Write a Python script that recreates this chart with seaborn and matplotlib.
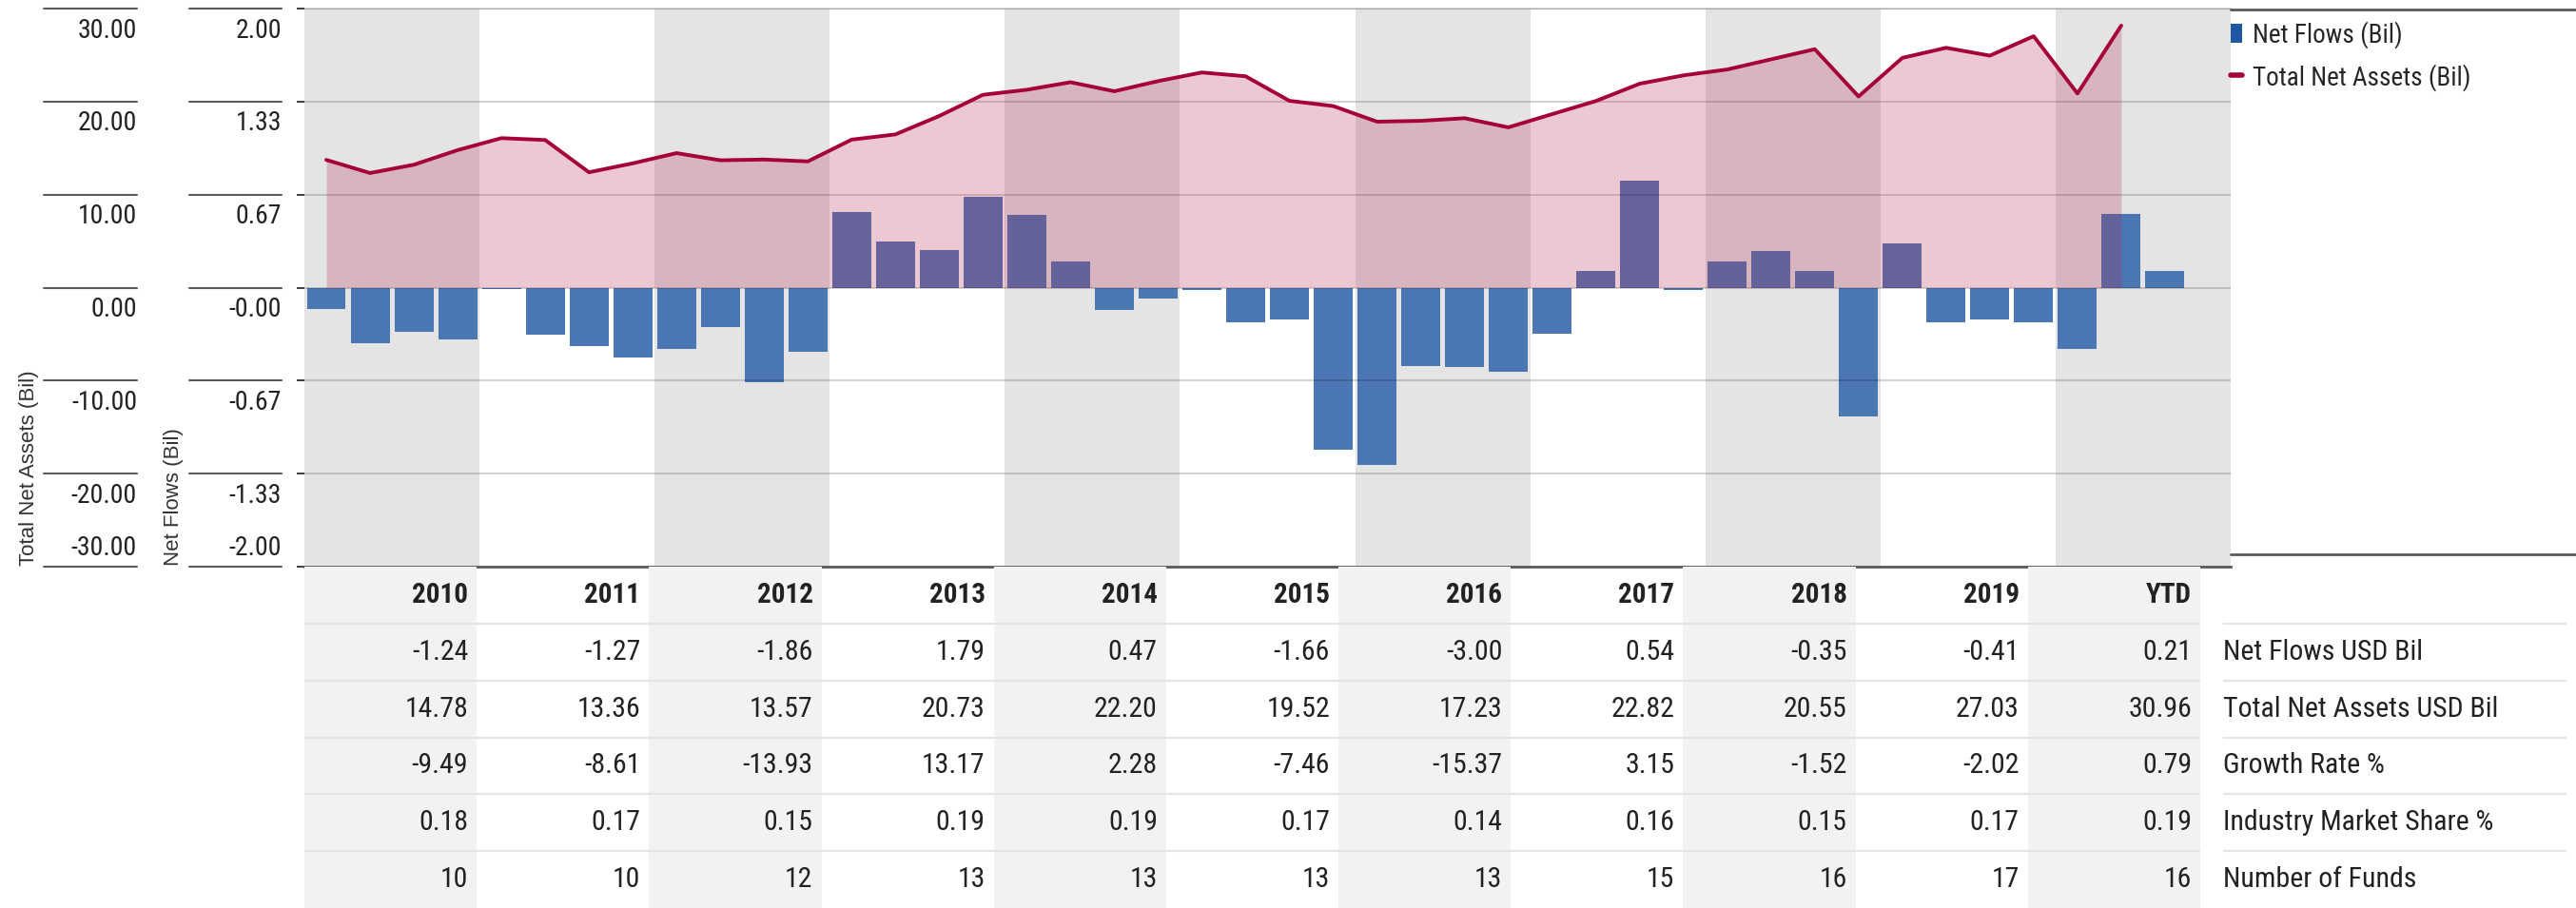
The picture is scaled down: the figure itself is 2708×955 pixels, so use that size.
import numpy as np
import pandas as pd
import seaborn as sns
import matplotlib.pyplot as plt
import matplotlib.transforms as mtransforms
from matplotlib import font_manager
from matplotlib.patches import Patch
from matplotlib.lines import Line2D

# data
years = ['2010', '2011', '2012', '2013', '2014', '2015', '2016', '2017', '2018', '2019', 'YTD']
flows_q = [-0.15, -0.40, -0.32, -0.37,
           -0.01, -0.34, -0.42, -0.50,
           -0.44, -0.28, -0.68, -0.46,
           0.54, 0.33, 0.27, 0.65,
           0.52, 0.19, -0.16, -0.08,
           -0.02, -0.25, -0.23, -1.16,
           -1.27, -0.56, -0.57, -0.60,
           -0.33, 0.12, 0.77, -0.02,
           0.19, 0.26, 0.12, -0.92,
           0.32, -0.25, -0.23, -0.25,
           -0.44, 0.53, 0.12]
tna_q = [13.73, 12.32, 13.21, 14.78,
         16.07, 15.87, 12.40, 13.36,
         14.46, 13.69, 13.77, 13.57,
         15.91, 16.47, 18.45, 20.73,
         21.27, 22.08, 21.11, 22.20,
         23.13, 22.72, 20.08, 19.52,
         17.84, 17.93, 18.21, 17.23,
         18.65, 20.06, 21.92, 22.82,
         23.45, 24.54, 25.63, 20.55,
         24.70, 25.78, 24.94, 27.03,
         20.87, 28.17]

tna_ticks = [30, 20, 10, 0, -10, -20, -30]
tna_labels = ['30.00', '20.00', '10.00', '0.00', '-10.00', '-20.00', '-30.00']
flow_ticks = [2, 4 / 3, 2 / 3, 0, -2 / 3, -4 / 3, -2]
flow_labels = ['2.00', '1.33', '0.67', '-0.00', '-0.67', '-1.33', '-2.00']

net_flows_yr = [-1.24, -1.27, -1.86, 1.79, 0.47, -1.66, -3.00, 0.54, -0.35, -0.41, 0.21]
tna_yr = [14.78, 13.36, 13.57, 20.73, 22.20, 19.52, 17.23, 22.82, 20.55, 27.03, 30.96]
growth_yr = [-9.49, -8.61, -13.93, 13.17, 2.28, -7.46, -15.37, 3.15, -1.52, -2.02, 0.79]
share_yr = [0.18, 0.17, 0.15, 0.19, 0.19, 0.17, 0.14, 0.16, 0.15, 0.17, 0.19]
funds_yr = [10, 10, 12, 13, 13, 13, 13, 15, 16, 17, 16]
row_labels = ['Net Flows USD Bil', 'Total Net Assets USD Bil', 'Growth Rate %',
              'Industry Market Share %', 'Number of Funds']

BAR = '#4270b2'
LINE = '#a6003a'
FILL = '#b3274f'
BAND = '#e4e4e4'
GRID = '#c8c8c8'
DARK = '#5a5a5a'
TXT = '#222222'

sns.set_theme(style='white')
names = {f.name for f in font_manager.fontManager.ttflist}
NARROW = 'DejaVu Sans'
for cand in ['Liberation Sans Narrow', 'Roboto Condensed', 'Roboto']:
    if cand in names:
        NARROW = cand
        break
plt.rcParams['font.family'] = [NARROW, 'DejaVu Sans']

W, H = 2708, 955
fig = plt.figure(figsize=(W / 100, H / 100), dpi=100)


def fx(px):
    return px / W


def fy(px):
    return 1 - px / H


PL, PR, PT, PB = 320, 2345, 9, 596

# main plot
ax = fig.add_axes([fx(PL), fy(PB), fx(PR - PL), (PB - PT) / H])
slots = [f'{y} Q{q}' for y in years for q in range(1, 5)]
df = pd.DataFrame({'slot': slots[:len(flows_q)], 'flows': flows_q})
sns.barplot(data=df, x='slot', y='flows', order=slots, color=BAR, saturation=1,
            width=0.89, linewidth=0, errorbar=None, alpha=0.95, ax=ax, zorder=2)
for i in range(0, len(years), 2):
    ax.axvspan(4 * i - 0.5, 4 * i + 3.5, color=BAND, lw=0, zorder=0)
ax.set_xlim(-0.5, len(slots) - 0.5)
ax.set_ylim(-2, 2)
ax.set_yticks(flow_ticks)
ax.set_axisbelow(False)
ax.yaxis.grid(True, color='black', alpha=0.2, lw=1.2)
ax.tick_params(left=False, bottom=False, labelleft=False, labelbottom=False)
ax.set_xlabel('')
ax.set_ylabel('')
for s in ['left', 'right']:
    ax.spines[s].set_visible(False)
ax.spines['top'].set_color(GRID)
ax.spines['top'].set_linewidth(1.2)
ax.spines['bottom'].set_color(DARK)
ax.spines['bottom'].set_linewidth(2)
ax.spines['bottom'].set_zorder(5)
ax.patch.set_facecolor('white')

ax2 = ax.twinx()
idx = np.arange(len(tna_q))
ax2.fill_between(idx, 0, tna_q, color=FILL, alpha=0.25, lw=0, zorder=1)
sns.lineplot(x=idx, y=tna_q, color=LINE, lw=2.8, ax=ax2, zorder=3)
ax2.set_ylim(-30, 30)
ax2.set_xlim(-0.5, len(slots) - 0.5)
ax2.axis('off')

# left scales
for x0, x1, lims, ticks, labels in [(46, 144, (-30, 30), tna_ticks, tna_labels),
                                    (199, 296, (-2, 2), flow_ticks, flow_labels)]:
    sa = fig.add_axes([fx(x0), fy(PB), fx(x1 - x0), (PB - PT) / H])
    sa.set_ylim(lims)
    sa.axis('off')
    for k, (t, lab) in enumerate(zip(ticks, labels)):
        sa.axhline(t, color=DARK, lw=1.5, clip_on=False)
        dy = 20 if k == len(ticks) - 1 else -23
        tr = mtransforms.offset_copy(sa.get_yaxis_transform(), fig=fig, y=dy, units='dots')
        sa.text(1.0, t, lab, transform=tr, ha='right', va='center', size=20, color=TXT)

fig.text(fx(31), fy(595), 'Total Net Assets (Bil)', rotation=90, ha='center', va='bottom',
         family=['Liberation Sans', 'DejaVu Sans'], size=16, color='#333333')
fig.text(fx(183), fy(595), 'Net Flows (Bil)', rotation=90, ha='center', va='bottom',
         family=['Liberation Sans', 'DejaVu Sans'], size=16, color='#333333')

# legend box
for yy in [10, 583]:
    fig.add_artist(Line2D([fx(PR), 1], [fy(yy), fy(yy)], color=DARK, lw=2,
                          transform=fig.transFigure))
handles = [Patch(facecolor='#1f57a5', edgecolor='none'), Line2D([0], [0], color=LINE, lw=4)]
fig.legend(handles=handles, labels=['Net Flows (Bil)', 'Total Net Assets (Bil)'],
           loc='upper left', bbox_to_anchor=(fx(PR), fy(22)), frameon=False,
           borderpad=0, borderaxespad=0, handlelength=0.45, handleheight=0.8,
           handletextpad=0.4, labelspacing=0.6, prop={'family': NARROW, 'size': 19.5})

# table
tab = fig.add_axes([fx(PL), 0, fx(2313 - PL), (H - PB) / H])
tab.set_xlim(0, len(years))
tab.set_ylim(6, 0)
tab.axis('off')
for i in range(0, len(years), 2):
    tab.axvspan(i, i + 1, color='#f2f2f2', lw=0, zorder=0)
for r in range(1, 6):
    tab.axhline(r, color='#e4e4e4', lw=1.6)
pad = 9 / 181.2
rows = [[f'{v:.2f}' for v in net_flows_yr],
        [f'{v:.2f}' for v in tna_yr],
        [f'{v:.2f}' for v in growth_yr],
        [f'{v:.2f}' for v in share_yr],
        [f'{v:d}' for v in funds_yr]]
for i, y in enumerate(years):
    tab.text(i + 1 - pad, 0.5, y, ha='right', va='center', weight='bold', size=21, color=TXT)
    for r, row in enumerate(rows):
        tab.text(i + 1 - pad, r + 1.5, row[i], ha='right', va='center', size=21.5, color=TXT)

lab = fig.add_axes([fx(2337), 0, fx(2698 - 2337), (H - PB) / H])
lab.set_xlim(0, 1)
lab.set_ylim(6, 0)
lab.axis('off')
for r in range(1, 6):
    lab.axhline(r, color='#e4e4e4', lw=1.6)
for r, name in enumerate(row_labels):
    lab.text(0, r + 1.5, name, ha='left', va='center', size=21.5, color=TXT)

fig.savefig('out.png', dpi=100)
